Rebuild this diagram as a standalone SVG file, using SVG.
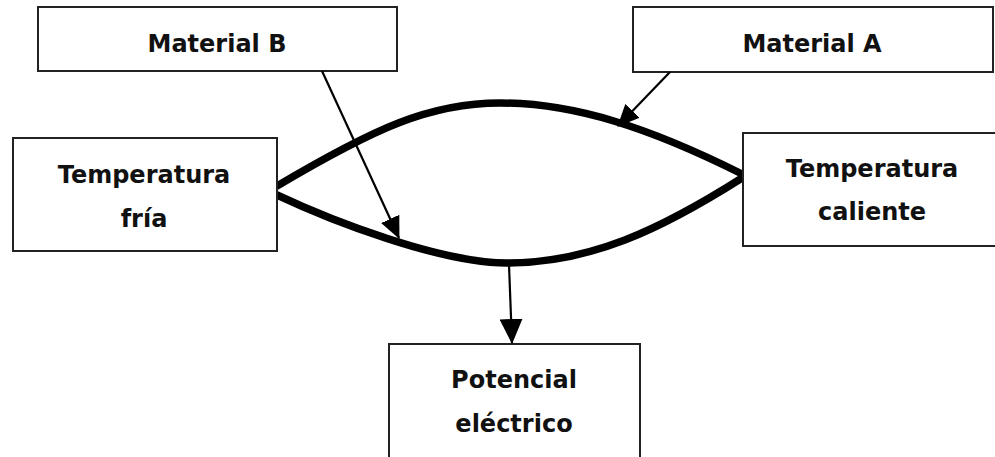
<svg xmlns="http://www.w3.org/2000/svg" width="995" height="457" viewBox="0 0 995 457">
  <style>
    .box { fill: #ffffff; stroke: #222222; stroke-width: 2; }
    .label { font-family: "DejaVu Sans", Verdana, sans-serif; font-weight: bold; font-size: 24px; fill: #111111; text-anchor: middle; }
    .wire { fill: none; stroke: #000000; stroke-width: 7.5; stroke-linecap: round; }
    .arrow { fill: none; stroke: #000000; stroke-width: 2.2; }
  </style>
  <defs>
    <marker id="head" markerUnits="userSpaceOnUse" markerWidth="22" markerHeight="20" refX="21" refY="10" orient="auto">
      <path d="M0,0 L22,10 L0,20 Z" fill="#000000"/>
    </marker>
    <marker id="headLarge" markerUnits="userSpaceOnUse" markerWidth="25" markerHeight="23" refX="24" refY="11.5" orient="auto">
      <path d="M0,0 L25,11.5 L0,23 Z" fill="#000000"/>
    </marker>
  </defs>
  <rect width="995" height="457" fill="#ffffff"/>

  <!-- thermocouple junction wires -->
  <g id="wires">
    <path class="wire" d="M277,186 C375,128 430,103 500,103 C575,103 650,128 742,174"/>
    <path class="wire" d="M277,195 C330,220 440,263 507,263 C590,263 660,230 742,178"/>
  </g>

  <g id="node-material-b">
    <rect class="box" x="38" y="7" width="359" height="64"/>
    <text class="label" x="217" y="52">Material B</text>
  </g>

  <g id="node-material-a">
    <rect class="box" x="633" y="7" width="360" height="65"/>
    <text class="label" x="812" y="52">Material A</text>
  </g>

  <g id="node-temperatura-fria">
    <rect class="box" x="13" y="138" width="264" height="113"/>
    <text class="label" x="144" y="183">Temperatura</text>
    <text class="label" x="144" y="227">fría</text>
  </g>

  <g id="node-temperatura-caliente">
    <rect class="box" x="743" y="133" width="260" height="113"/>
    <text class="label" x="872" y="177">Temperatura</text>
    <text class="label" x="872" y="220">caliente</text>
  </g>

  <g id="node-potencial">
    <rect class="box" x="389" y="344" width="251" height="120"/>
    <text class="label" x="514" y="388">Potencial</text>
    <text class="label" x="514" y="432">eléctrico</text>
  </g>

  <!-- connectors -->
  <g id="connectors">
    <line class="arrow" x1="322" y1="71" x2="399" y2="238" marker-end="url(#head)"/>
    <line class="arrow" x1="670" y1="72" x2="618" y2="126" marker-end="url(#head)"/>
    <line class="arrow" x1="509" y1="265" x2="512" y2="343" marker-end="url(#headLarge)"/>
  </g>
</svg>
